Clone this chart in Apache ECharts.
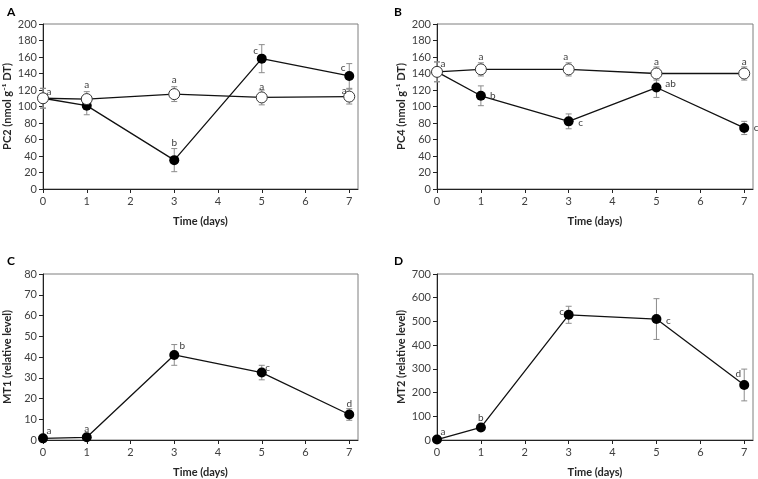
<!DOCTYPE html>
<html><head><meta charset="utf-8">
<script src="https://cdn.jsdelivr.net/npm/echarts@6/dist/echarts.min.js"></script>
<style>html,body{margin:0;padding:0;background:#fff}#c{width:758px;height:479px}</style>
</head><body><div id="c"></div>
<script>
const days = [0, 1, 3, 5, 7];
const xTicks = [0, 1, 2, 3, 4, 5, 6, 7];

const pc2Treated = [110, 101, 35, 158, 137];
const pc2TreatedErr = [12, 11, 14, 17, 15];
const pc2TreatedLetters = ['', '', 'b', 'c', 'c'];
const pc2Control = [110, 109, 115, 111, 112];
const pc2ControlErr = [12, 9, 9, 9, 9];
const pc2ControlLetters = ['a', 'a', 'a', 'a', 'a'];

const pc4Treated = [142, 113, 82, 123, 74];
const pc4TreatedErr = [12, 12, 9, 12, 8];
const pc4TreatedLetters = ['', 'b', 'c', 'ab', 'c'];
const pc4Control = [142, 145, 145, 140, 140];
const pc4ControlErr = [12, 8, 8, 8, 8];
const pc4ControlLetters = ['a', 'a', 'a', 'a', 'a'];

const mt1 = [0.8, 1.3, 41, 32.5, 12.3];
const mt1Err = [0.5, 0.5, 5, 3.5, 2.8];
const mt1Letters = ['a', 'a', 'b', 'c', 'd'];

const mt2 = [2, 53, 528, 510, 232];
const mt2Err = [0, 8, 36, 86, 67];
const mt2Letters = ['a', 'b', 'c', 'c', 'd'];

// style: label offsets (px from point centre)
const offA_ctrl = [[6,-6],[0,-14],[0,-14],[0,-11],[-5,-6]];
const offA_trt  = [[0,0],[0,0],[0,-17],[-6,-8],[-6,-8]];
const offB_ctrl = [[6,-8],[0,-13],[-3,-13],[0,-12],[0,-12]];
const offB_trt  = [[0,0],[12,0],[12,1],[14,-4],[12,0]];
const offC = [[6,-8],[0,-9],[8,-9],[6,-5],[0,-11]];
const offD = [[6,-8],[0,-10],[-7,-3],[12,2],[-6,-11]];

const FONT = 'Lato';
const grids = [
  {left: 43, top: 24, width: 315, height: 165},
  {left: 437, top: 24, width: 316, height: 165},
  {left: 43, top: 274, width: 315, height: 166},
  {left: 437, top: 274, width: 316, height: 166}
];
const yCfg = [
  {max: 200, interval: 20, name: 'PC2 (nmol g\u207B\u00B9 DT)'},
  {max: 200, interval: 20, name: 'PC4 (nmol g\u207B\u00B9 DT)'},
  {max: 80, interval: 10, name: 'MT1 (relative level)'},
  {max: 700, interval: 100, name: 'MT2 (relative level)'}
];

function errSeries(idx, vals, errs) {
  return {
    type: 'custom', xAxisIndex: idx, yAxisIndex: idx, z: 1, silent: true,
    data: days.map((d, i) => [d, vals[i], errs[i]]),
    renderItem: function (params, api) {
      const x = api.value(0), y = api.value(1), e = api.value(2);
      if (!e) return null;
      const hi = api.coord([x, y + e]), lo = api.coord([x, y - e]);
      const w = 3, st = {stroke: '#8c8c8c', lineWidth: 1};
      return {type: 'group', children: [
        {type: 'line', shape: {x1: hi[0], y1: hi[1], x2: lo[0], y2: lo[1]}, style: st},
        {type: 'line', shape: {x1: hi[0] - w, y1: hi[1], x2: hi[0] + w, y2: hi[1]}, style: st},
        {type: 'line', shape: {x1: lo[0] - w, y1: lo[1], x2: lo[0] + w, y2: lo[1]}, style: st}
      ]};
    }
  };
}
function lineSeries(idx, vals, letters, offs, open) {
  return {
    type: 'line', xAxisIndex: idx, yAxisIndex: idx, z: open ? 4 : 3,
    symbol: 'circle', symbolSize: open ? 11 : 10, showSymbol: true,
    lineStyle: {color: '#111', width: 1.3},
    itemStyle: open ? {color: '#fff', borderColor: '#333', borderWidth: 1} : {color: '#000', borderWidth: 0},
    data: days.map((d, i) => ({
      value: [d, vals[i]],
      label: {show: !!letters[i], formatter: letters[i], position: 'inside', offset: offs[i],
        color: '#404040', fontFamily: FONT, fontSize: 10}
    })),
    animation: false
  };
}

const option = {
  animation: false,
  title: [
    {text: 'A', left: 2, top: 1}, {text: 'B', left: 389, top: 1},
    {text: 'C', left: 2, top: 250}, {text: 'D', left: 389, top: 250}
  ].map(t => Object.assign(t, {textStyle: {fontFamily: FONT, fontWeight: 'bold', fontSize: 12, color: '#000'}})),
  grid: grids.map(g => Object.assign({show: true, borderColor: '#7f7f7f', borderWidth: 1, backgroundColor: 'transparent'}, g)),
  xAxis: grids.map((g, i) => ({
    type: 'value', gridIndex: i, min: 0, max: 7.2, interval: 1,
    name: 'Time (days)', nameLocation: 'middle', nameGap: 27,
    nameTextStyle: {fontFamily: FONT, fontWeight: 'bold', fontSize: 11, color: '#262626'},
    axisLine: {show: true, lineStyle: {color: '#222', width: 1}},
    axisTick: {show: true, inside: false, length: 4, lineStyle: {color: '#222'}},
    axisLabel: {fontFamily: FONT, fontSize: 11, color: '#404040', margin: 7, showMaxLabel: false,
      formatter: v => (xTicks.indexOf(v) >= 0 ? String(v) : '')},
    splitLine: {show: false}
  })),
  yAxis: yCfg.map((c, i) => ({
    type: 'value', gridIndex: i, min: 0, max: c.max, interval: c.interval,
    name: c.name, nameLocation: 'middle', nameGap: 30, nameRotate: 90,
    nameTextStyle: {fontFamily: FONT, fontWeight: 'bold', fontSize: 11, color: '#262626'},
    axisLine: {show: true, lineStyle: {color: '#222', width: 1}},
    axisTick: {show: true, inside: false, length: 4, lineStyle: {color: '#222'}},
    axisLabel: {fontFamily: FONT, fontSize: 11, color: '#404040', margin: 6},
    splitLine: {show: false}
  })),
  series: [
    errSeries(0, pc2Treated, pc2TreatedErr), errSeries(0, pc2Control, pc2ControlErr),
    lineSeries(0, pc2Treated, pc2TreatedLetters, offA_trt, false),
    lineSeries(0, pc2Control, pc2ControlLetters, offA_ctrl, true),
    errSeries(1, pc4Treated, pc4TreatedErr), errSeries(1, pc4Control, pc4ControlErr),
    lineSeries(1, pc4Treated, pc4TreatedLetters, offB_trt, false),
    lineSeries(1, pc4Control, pc4ControlLetters, offB_ctrl, true),
    errSeries(2, mt1, mt1Err),
    lineSeries(2, mt1, mt1Letters, offC, false),
    errSeries(3, mt2, mt2Err),
    lineSeries(3, mt2, mt2Letters, offD, false)
  ]
};
echarts.init(document.getElementById('c'), null, {renderer: 'canvas'}).setOption(option);
</script></body></html>
